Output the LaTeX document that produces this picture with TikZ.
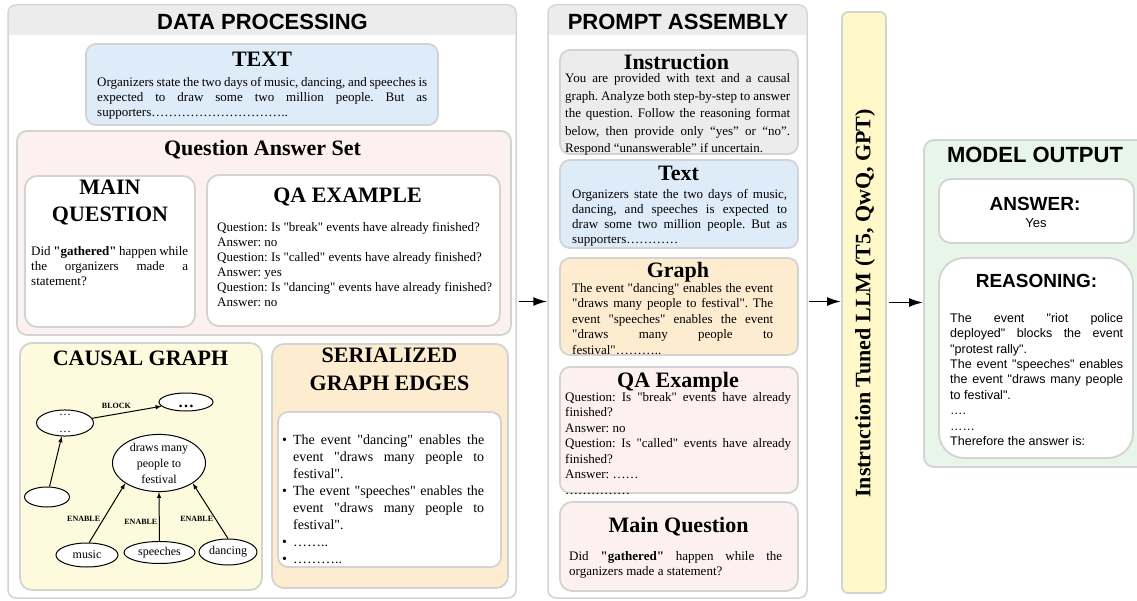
\documentclass[tikz,border=0pt]{standalone}
\usepackage{fontspec}
\setmainfont{Liberation Serif}[Ligatures=TeXOff]
\setsansfont{Liberation Sans}[Ligatures=TeXOff]
\usetikzlibrary{arrows,arrows.meta,shapes.geometric}
\frenchspacing

\definecolor{boxline}{RGB}{211,211,211}
\definecolor{headgray}{RGB}{236,236,236}
\definecolor{textblue}{RGB}{222,236,249}
\definecolor{qapink}{RGB}{253,240,240}
\definecolor{graphyellow}{RGB}{254,250,221}
\definecolor{edgepeach}{RGB}{253,236,208}
\definecolor{instrgray}{RGB}{236,236,236}
\definecolor{llmyellow}{RGB}{255,249,201}
\definecolor{outgreen}{RGB}{232,245,233}

\newcommand{\edgeitem}{\par\noindent\hangindent=11pt\hangafter=1\makebox[11pt][l]{\textbullet}}

\tikzset{
  panel/.style={draw=boxline, line width=1.5pt, fill=white, rounded corners=8pt, inner sep=0pt},
  box/.style={draw=boxline, line width=1.8pt, rounded corners=10pt, inner sep=0pt},
  paneltitle/.style={font=\sffamily\bfseries\fontsize{22}{26}\selectfont, anchor=north, inner sep=0pt},
  boxtitle/.style={font=\bfseries\fontsize{22}{27}\selectfont, anchor=north, inner sep=0pt, align=center},
  body/.style={font=\fontsize{13}{15}\selectfont\frenchspacing, anchor=north west, inner sep=0pt, align=justify},
  event/.style={draw, ellipse, line width=1pt, fill=white, inner sep=0pt, font=\fontsize{12}{16}\selectfont, align=center},
  rel/.style={font=\bfseries\fontsize{8}{9}\selectfont},
  cause/.style={-latex, line width=1pt},
  flow/.style={-{Latex[length=14pt,width=9pt]}, line width=1.8pt},
}

\begin{document}
\begin{tikzpicture}[x=1pt,y=1pt,yscale=-1,xscale=1]
\useasboundingbox (0,0) rectangle (1137,601);

%Panel: data processing
\node [panel, minimum width=508, minimum height=593] (dp) at (262,301.5) {};
\begin{scope}
\clip (0,0) rectangle (1137,35);
\fill [headgray, rounded corners=7.25pt] (8.75,5.75) rectangle (515.25,50);
\end{scope}
\node [paneltitle] (dp-title) at (262.5,13.5) {DATA PROCESSING};

%Shape: text
\node [box, fill=textblue, minimum width=352, minimum height=81] (txt) at (262,84.5) {};
\node [boxtitle] (txt-title) at (262,52) {TEXT};
\node [body, text width=330] (txt-body) at (97,77) {Organizers state the two days of music, dancing, and speeches is \linebreak expected to draw some two million people. But as \linebreak supporters…………………………..};

%Shape: question answer set
\node [box, fill=qapink, minimum width=494, minimum height=204] (qaset) at (264,233) {};
\node [boxtitle] (qaset-title) at (262.5,140) {Question Answer Set};
\node [box, fill=white, rounded corners=12pt, minimum width=170, minimum height=151] (mainq) at (110,251.5) {};
\node [boxtitle] (mainq-title) at (110,180) {MAIN\\QUESTION};
\node [body, text width=157] (mainq-body) at (31,246) {Did \textbf{"gathered"} happen while \linebreak the organizers made a \linebreak statement?};
\node [box, fill=white, rounded corners=12pt, minimum width=293, minimum height=151] (qaex) at (353.5,250.5) {};
\node [boxtitle] (qaex-title) at (347.5,188) {QA EXAMPLE};
\node [body, align=left] (qaex-body) at (217,222) {Question: Is "break" events have already finished?\\Answer: no\\Question: Is "called" events have already finished?\\Answer: yes\\Question: Is "dancing" events have already finished?\\Answer: no};

%Shape: causal graph
\node [box, fill=graphyellow, rounded corners=12pt, minimum width=242, minimum height=247] (cg) at (141,466.5) {};
\node [boxtitle] (cg-title) at (140.5,351) {CAUSAL GRAPH};
\node [event, minimum width=57, minimum height=25, font=\fontsize{12}{17}\selectfont] (e1) at (65,423) {…\\…};
\node [event, minimum width=54, minimum height=18] (e2) at (186,402) {\smash{\raisebox{-5pt}{\fontsize{16}{16}\selectfont\textbf{…}}}};
\node [event, minimum width=45, minimum height=20] (e3) at (47,497) {};
\node [event, minimum width=93, minimum height=47] (d) at (159,463) {draws many\\people to\\festival};
\node [event, minimum width=62, minimum height=24] (music) at (87,555) {music};
\node [event, minimum width=71, minimum height=22] (speeches) at (159.5,552.5) {speeches};
\node [event, minimum width=58, minimum height=26] (dancing) at (228,552) {dancing};
\draw [cause] (e3) -- (e1);
\draw [cause] (e1) -- node [rel, pos=0.35, anchor=south, inner sep=5pt] {BLOCK} (e2);
\draw [cause] (music.80) -- node [rel, pos=0.4, anchor=east, inner sep=3pt] {ENABLE} (d.211);
\draw [cause] (speeches.north) -- node [rel, pos=0.4, anchor=east, inner sep=1.5pt] {ENABLE} (d.south);
\draw [cause] (dancing.north) -- node [rel, pos=0.35, anchor=east, inner sep=2pt] {ENABLE} (d.329);

%Shape: serialized graph edges
\node [box, fill=edgepeach, rounded corners=12pt, minimum width=236, minimum height=244] (ser) at (390,466) {};
\node [boxtitle, font=\bfseries\fontsize{22}{28}\selectfont] (ser-title) at (389.5,348) {SERIALIZED\\GRAPH EDGES};
\node [box, fill=white, minimum width=223, minimum height=155] (serin) at (389.5,489.5) {};
\node [body, font=\fontsize{14}{17}\selectfont\frenchspacing, text width=202] (ser-body) at (282,427) {\edgeitem The event "dancing" enables the \linebreak event "draws many people to \linebreak festival".
\edgeitem The event "speeches" enables the \linebreak event "draws many people to \linebreak festival".
\edgeitem ……..
\edgeitem ………..};

%Panel: prompt assembly
\node [panel, minimum width=259, minimum height=593] (pa) at (677.5,301.5) {};
\begin{scope}
\clip (0,0) rectangle (1137,35);
\fill [headgray, rounded corners=7.25pt] (548.75,5.75) rectangle (806.25,50);
\end{scope}
\node [paneltitle] (pa-title) at (678,14) {PROMPT ASSEMBLY};

\node [box, fill=instrgray, minimum width=238, minimum height=104] (instr) at (679,102) {};
\node [boxtitle] (instr-title) at (676.5,54.5) {Instruction};
\node [body, font=\fontsize{13}{17.5}\selectfont\frenchspacing, text width=225] (instr-body) at (565,73.5) {You are provided with text and a causal \linebreak graph. Analyze both step-by-step to answer \linebreak the question. Follow the reasoning format \linebreak below, then provide only “yes” or “no”. \linebreak Respond “unanswerable” if uncertain.};

\node [box, fill=textblue, minimum width=238, minimum height=88] (ptext) at (679,204) {};
\node [boxtitle] (ptext-title) at (678.5,166) {Text};
\node [body, text width=215] (ptext-body) at (572,189) {Organizers state the two days of music, \linebreak dancing, and speeches is expected to \linebreak draw some two million people. But as \linebreak supporters…………};

\node [box, fill=edgepeach, minimum width=238, minimum height=97] (pgraph) at (679,306.5) {};
\node [boxtitle] (pgraph-title) at (678,262) {Graph};
\node [body, font=\fontsize{13}{15.5}\selectfont\frenchspacing, text width=201] (pgraph-body) at (572,283) {The event "dancing" enables the event \linebreak "draws many people to festival". The \linebreak event "speeches" enables the event \linebreak "draws many people to \linebreak festival"………..};

\node [box, fill=qapink, minimum width=238, minimum height=126] (pqa) at (679,430) {};
\node [boxtitle] (pqa-title) at (678,372) {QA Example};
\node [body, font=\fontsize{13}{15.5}\selectfont\frenchspacing, text width=226] (pqa-body) at (565,392) {Question: Is "break" events have already \linebreak finished?\\Answer: no\\Question: Is "called" events have already \linebreak finished?\\Answer: ……\\……………};

\node [box, fill=qapink, rounded corners=12pt, minimum width=238, minimum height=89] (pmainq) at (679,546.5) {};
\node [boxtitle] (pmainq-title) at (678.5,517) {Main Question};
\node [body, text width=213] (pmainq-body) at (569,551) {Did \textbf{"gathered"} happen while the \linebreak organizers made a statement?};

%Shape: model
\node [box, fill=llmyellow, rounded corners=6pt, minimum width=44, minimum height=581] (llm) at (864,302.5) {};
\node [font=\bfseries\fontsize{22}{26}\selectfont, rotate=90, inner sep=0pt] (llm-title) at (865,303.5) {Instruction Tuned LLM (T5, QwQ, GPT)};

%Panel: model output
\node [box, fill=outgreen, minimum width=226, minimum height=327] (mo) at (1037,303.5) {};
\node [paneltitle] (mo-title) at (1035,147) {MODEL OUTPUT};
\node [box, fill=white, rounded corners=12pt, minimum width=195, minimum height=64] (ans) at (1036.5,211) {};
\node [paneltitle, font=\sffamily\bfseries\fontsize{19}{22}\selectfont] (ans-title) at (1035,197) {ANSWER:};
\node [anchor=north, inner sep=0pt, font=\sffamily\fontsize{13}{15}\selectfont] (ans-body) at (1036,218) {Yes};
\node [box, fill=white, rounded corners=25pt, minimum width=194, minimum height=200] (reas) at (1036,358) {};
\node [paneltitle, font=\sffamily\bfseries\fontsize{19}{22}\selectfont] (reas-title) at (1036.5,274) {REASONING:};
\node [body, font=\sffamily\fontsize{12.5}{15.4}\selectfont\frenchspacing, text width=173] (reas-body) at (950,313) {The event "riot police \linebreak deployed" blocks the event \linebreak "protest rally".\\The event "speeches" enables \linebreak the event "draws many people \linebreak to festival".\\….\\……\\Therefore the answer is:};

% Arrows
\draw [flow] ([xshift=2pt]dp.east) -- (pa.west);
\draw [flow] ([xshift=1pt]pa.east) -- (pa.east -| llm.west);
\draw [flow] ([xshift=2pt]llm.east) -- (llm.east -| mo.west);

\end{tikzpicture}
\end{document}
